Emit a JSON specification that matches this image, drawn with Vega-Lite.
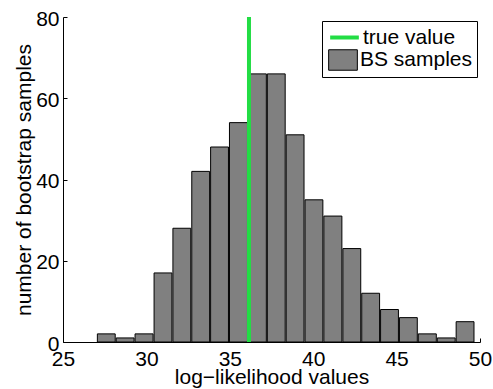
{
  "$schema": "https://vega.github.io/schema/vega-lite/v6.json",
  "width": 417,
  "height": 325,
  "autosize": {"type": "none"},
  "padding": {"left": 63, "top": 17, "right": 13, "bottom": 47},
  "background": "white",
  "config": {
    "view": {"stroke": null},
    "font": "Liberation Sans",
    "axis": {
      "grid": false,
      "domainColor": "black",
      "domainWidth": 1,
      "tickColor": "black",
      "tickWidth": 1,
      "tickSize": -4,
      "labelColor": "black",
      "labelFontSize": 21,
      "labelFont": "Liberation Sans",
      "titleColor": "black",
      "titleFontSize": 21,
      "titleFontWeight": "normal",
      "titleFont": "Liberation Sans",
      "labelFlush": false,
      "labelOverlap": false
    },
    "legend": {
      "orient": "none",
      "padding": 4,
      "rowPadding": 0,
      "labelFontSize": 21,
      "labelFont": "Liberation Sans",
      "labelColor": "black",
      "symbolSize": 420,
      "symbolOffset": 6,
      "labelOffset": 6
    }
  },
  "datasets": {
    "bins": [
      {"start": 27.00, "end": 28.13, "count": 2},
      {"start": 28.13, "end": 29.26, "count": 1},
      {"start": 29.26, "end": 30.40, "count": 2},
      {"start": 30.40, "end": 31.53, "count": 17},
      {"start": 31.53, "end": 32.66, "count": 28},
      {"start": 32.66, "end": 33.79, "count": 42},
      {"start": 33.79, "end": 34.92, "count": 48},
      {"start": 34.92, "end": 36.06, "count": 54},
      {"start": 36.06, "end": 37.19, "count": 66},
      {"start": 37.19, "end": 38.32, "count": 66},
      {"start": 38.32, "end": 39.45, "count": 51},
      {"start": 39.45, "end": 40.58, "count": 35},
      {"start": 40.58, "end": 41.72, "count": 31},
      {"start": 41.72, "end": 42.85, "count": 23},
      {"start": 42.85, "end": 43.98, "count": 12},
      {"start": 43.98, "end": 45.11, "count": 8},
      {"start": 45.11, "end": 46.24, "count": 6},
      {"start": 46.24, "end": 47.38, "count": 2},
      {"start": 47.38, "end": 48.51, "count": 1},
      {"start": 48.51, "end": 49.64, "count": 5}
    ],
    "truth": [
      {"value": 36.15, "low": 0, "high": 80}
    ]
  },
  "layer": [
    {
      "data": {"name": "bins"},
      "mark": {"type": "bar", "stroke": "black", "strokeWidth": 1, "opacity": 1, "fillOpacity": 1, "orient": "vertical"},
      "encoding": {
        "x": {
          "field": "start",
          "type": "quantitative",
          "bin": "binned",
          "scale": {"domain": [25, 50], "nice": false, "zero": false},
          "axis": {"values": [25, 30, 35, 40, 45, 50], "title": "log−likelihood values", "labelPadding": 10, "titlePadding": -3, "format": "d"}
        },
        "x2": {"field": "end"},
        "y": {
          "field": "count",
          "type": "quantitative",
          "scale": {"domain": [0, 80], "nice": false},
          "axis": {"values": [0, 20, 40, 60, 80], "title": "number of bootstrap samples", "labelPadding": 8, "labelOffset": 2, "titlePadding": 1}
        },
        "fill": {
          "datum": "BS samples",
          "type": "nominal",
          "scale": {"range": ["#808080"]},
          "legend": {
            "orient": "none",
            "legendX": 259,
            "legendY": 4,
            "title": " ",
            "titleFontSize": 21,
            "titlePadding": 3,
            "strokeColor": "black",
            "fillColor": "white",
            "symbolType": "M-1.4,-1H1.4V1H-1.4Z",
            "symbolStrokeColor": "black",
            "symbolStrokeWidth": 1,
            "symbolOpacity": 1
          }
        }
      }
    },
    {
      "data": {"name": "truth"},
      "mark": {"type": "rule", "strokeWidth": 4},
      "encoding": {
        "x": {"field": "value", "type": "quantitative"},
        "y": {"field": "low", "type": "quantitative"},
        "y2": {"field": "high"},
        "stroke": {
          "datum": "true value",
          "type": "nominal",
          "scale": {"range": ["#22dd44"]},
          "legend": {
            "orient": "none",
            "legendX": 259,
            "legendY": 4,
            "title": null,
            "symbolType": "M-1.4,0H1.4",
            "symbolStrokeWidth": 4,
            "symbolOpacity": 1
          }
        }
      }
    }
  ]
}
